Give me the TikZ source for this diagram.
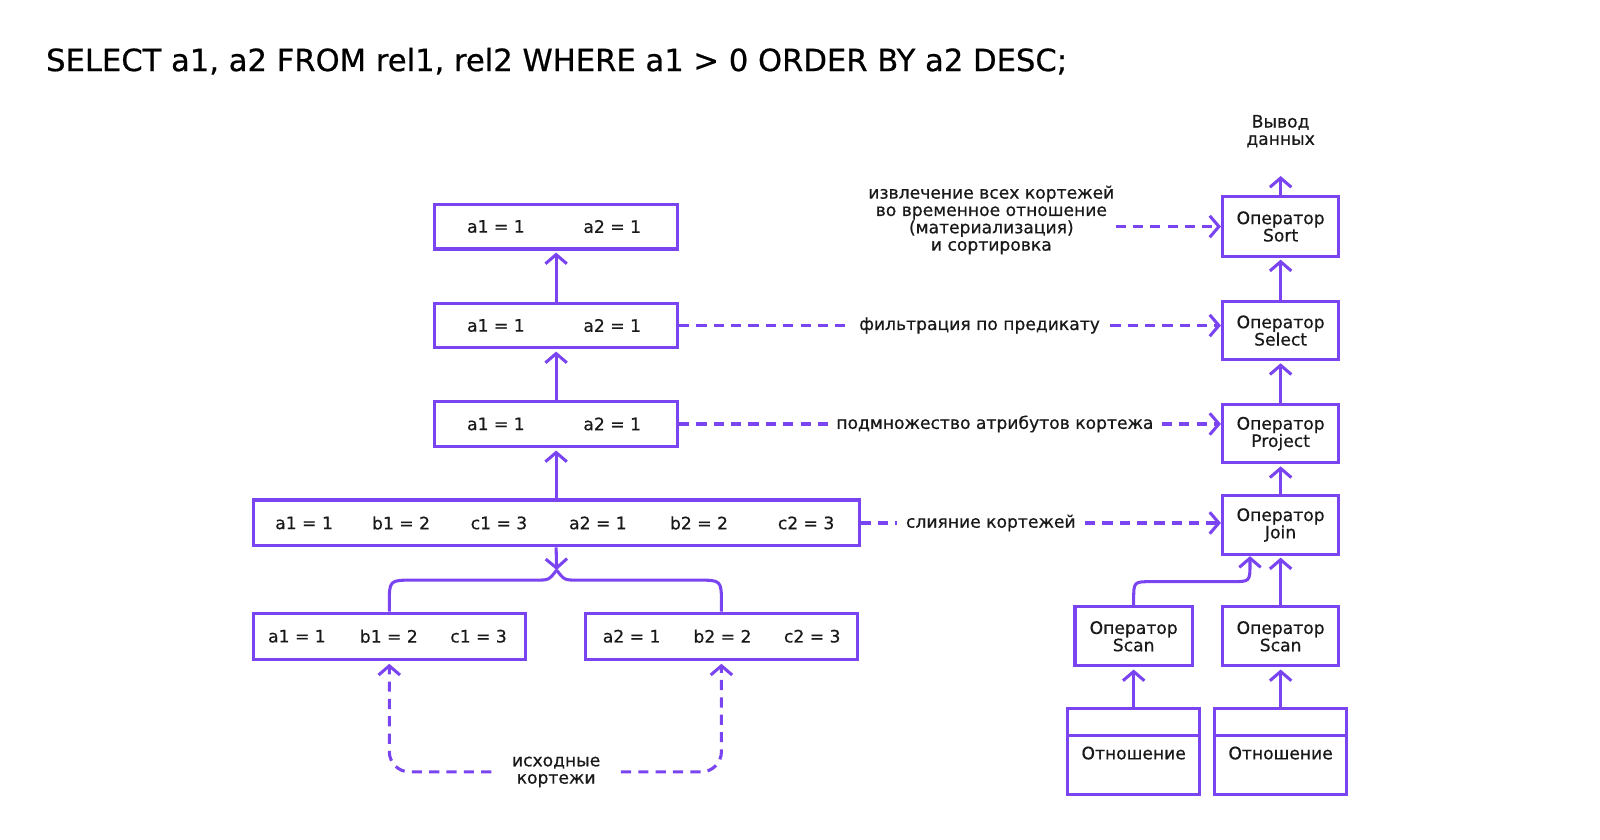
\documentclass[tikz,border=0pt]{standalone}
\usepackage{fontspec}
\setmainfont{DejaVu Sans}[FakeBold=0.6]
\usetikzlibrary{arrows.meta}
\definecolor{opviolet}{HTML}{7A45F0}

\begin{document}
\begin{tikzpicture}[x=1pt, y=-1pt,
    box/.style={draw=opviolet, line width=3pt, inner sep=0pt},
    txt/.style={font=\fontsize{16.8}{17}\selectfont\addfontfeature{FakeBold=0.6}, inner sep=0pt, align=center, text=black!90},
    flow/.style={draw=opviolet, line width=3pt},
    up/.style={flow, -{Straight Barb[length=9pt, width=21pt]}, shorten >=2pt},
    dashline/.style={flow, dash pattern=on 10pt off 7pt},
    dasharrow/.style={dashline, -{Straight Barb[length=9pt, width=21pt]}}]
        \useasboundingbox (0,0) rectangle (1568,823);

        % Query
        \node[anchor=west, inner sep=0pt, font=\fontsize{30}{34}\selectfont\addfontfeature{FakeBold=0.6}] (query) at (45,60)
            {SELECT a1, a2 FROM rel1, rel2 WHERE a1 > 0 ORDER BY a2 DESC;};

        % Tuples
        \node[box, minimum width=238pt, minimum height=44pt] (t4) at (545,222) {};
        \node[box, minimum width=238pt, minimum height=44pt] (t3) at (545,319) {};
        \node[box, minimum width=238pt, minimum height=45pt] (t2) at (545,415.5) {};
        \node[box, minimum width=594pt, minimum height=45pt] (t1) at (545,512.5) {};
        \node[box, minimum width=267pt, minimum height=45pt] (r1) at (381.5,623.5) {};
        \node[box, minimum width=266pt, minimum height=45pt] (r2) at (707,623.5) {};

        \foreach \b/\y in {t4/222, t3/319, t2/415.5}
            \foreach \x/\t [count=\i] in {486/{a1 = 1}, 600/{a2 = 1}}
                \node[txt] (\b-\i) at (\x,\y) {\t};
        \foreach \x/\t [count=\i] in {298/{a1 = 1}, 393/{b1 = 2}, 489/{c1 = 3}, 586/{a2 = 1}, 685/{b2 = 2}, 790/{c2 = 3}}
            \node[txt] (t1-\i) at (\x,512.5) {\t};
        \foreach \x/\t [count=\i] in {291/{a1 = 1}, 381/{b1 = 2}, 469/{c1 = 3}}
            \node[txt] (r1-\i) at (\x,623.5) {\t};
        \foreach \x/\t [count=\i] in {619/{a2 = 1}, 708/{b2 = 2}, 796/{c2 = 3}}
            \node[txt] (r2-\i) at (\x,623.5) {\t};

        % Operators
        \node[box, txt, minimum width=114pt, minimum height=58pt] (sort) at (1255,222) {Оператор\\Sort};
        \node[box, txt, minimum width=114pt, minimum height=57pt] (sel) at (1255,324) {Оператор\\Select};
        \node[box, txt, minimum width=114pt, minimum height=57pt] (proj) at (1255,425) {Оператор\\Project};
        \node[box, txt, minimum width=114pt, minimum height=57pt] (join) at (1255,514.5) {Оператор\\Join};
        \node[box, txt, minimum width=115pt, minimum height=58pt] (scanl) at (1111,623.6) {Оператор\\Scan};
        \node[box, txt, minimum width=114pt, minimum height=58pt] (scanr) at (1255,623.6) {Оператор\\Scan};
        \node[box, minimum width=129pt, minimum height=85pt] (rell) at (1111,736.5) {};
        \node[box, minimum width=129pt, minimum height=85pt] (relr) at (1255,736.5) {};
        \draw[flow] ([yshift=-28pt]rell.north west) -- ([yshift=-28pt]rell.north east);
        \draw[flow] ([yshift=-28pt]relr.north west) -- ([yshift=-28pt]relr.north east);
        \node[txt] (rell-t) at (1111,738) {Отношение};
        \node[txt] (relr-t) at (1255,738) {Отношение};
        \node[txt] (output) at (1255,128.5) {Вывод\\данных};
        \coordinate (out) at (1255,170.5);

        % Notes
        \node[txt] (sortnote) at (971.5,215.5) {извлечение всех кортежей\\во временное отношение\\(материализация)\\и сортировка};
        \node[txt, inner xsep=10pt] (selnote) at (960,319) {фильтрация по предикату};
        \node[txt, inner xsep=8pt] (projnote) at (975,415.5) {подмножество атрибутов кортежа};
        \node[txt, inner xsep=9pt] (joinnote) at (971,512.5) {слияние кортежей};
        \node[txt, inner xsep=20pt] (src) at (545,756.5) {исходные\\кортежи};

        % Tuple flow
        \draw[up] (t3.north) -- (t4.south);
        \draw[up] (t2.north) -- (t3.south);
        \draw[up] (t1.north) -- (t2.south);
        \coordinate (jn) at (545.5,558.6);
        \draw[up, shorten >=0pt] (t1.south) -- (jn);
        \draw[flow] (r1.north) -- (381.5,592) .. controls (381.5,568.5) .. (405,568.5)
            -- (525,568.5) .. controls (538,568.5) .. (jn);
        \draw[flow] (r2.north) -- (707,592) .. controls (707,568.5) .. (683.5,568.5)
            -- (566,568.5) .. controls (553,568.5) .. (jn);

        % Source tuples
        \draw[dasharrow, rounded corners=20pt, shorten >=3pt] (src.west) -| (r1.south);
        \draw[dasharrow, rounded corners=20pt, shorten >=3pt] (src.east) -| (r2.south);

        % Operator flow
        \draw[up] (sort.north) -- (out);
        \draw[up] (sel.north) -- (sort.south);
        \draw[up] (proj.north) -- (sel.south);
        \draw[up] (join.north) -- (proj.south);
        \draw[up] (scanr.north) -- (join.south);
        \coordinate (jl) at (1225,543);
        \draw[up] (scanl.north) -- (1111,588) .. controls (1111,570) .. (1129,570)
            -- (1207,570) .. controls (1225,570) .. (1225,552) -- (jl);
        \draw[up] (rell.north) -- (scanl.south);
        \draw[up] (relr.north) -- (scanr.south);

        % Dashed links
        \draw[dasharrow] ([xshift=1pt]sortnote.east |- sort.west) -- (sort.west);
        \draw[dashline] (t3.east) -- (selnote.west);
        \draw[dasharrow] (selnote.east) -- (selnote.east -| sel.west);
        \draw[dashline] (t2.east) -- (projnote.west);
        \draw[dasharrow] (projnote.east) -- (projnote.east -| proj.west);
        \draw[dashline] (t1.east) -- (joinnote.west);
        \draw[dasharrow] (joinnote.east) -- (joinnote.east -| join.west);
    \end{tikzpicture}
\end{document}
